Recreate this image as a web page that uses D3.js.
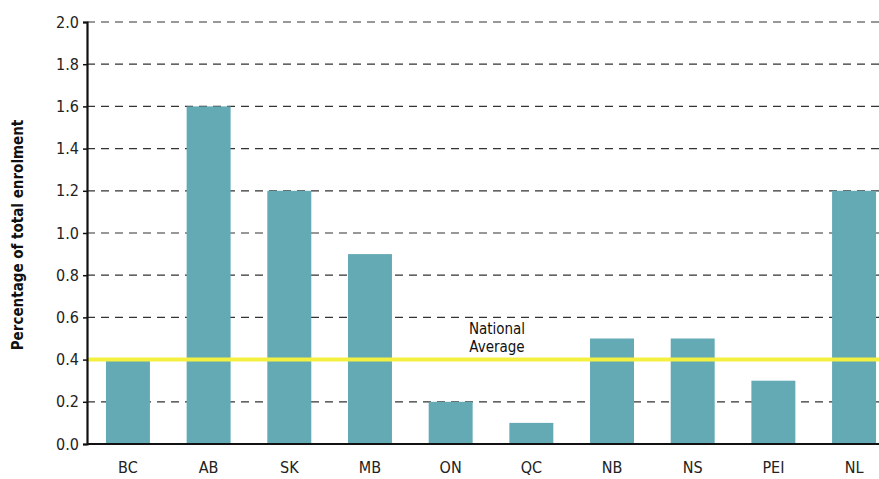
<!DOCTYPE html>
<html>
<head>
<meta charset="utf-8">
<script src="https://cdn.jsdelivr.net/npm/d3@7"></script>
<style>
  body { margin: 0; background: #fff; }
  text { font-family: "Liberation Sans Narrow", "DejaVu Sans Condensed", "Roboto", sans-serif; font-stretch: condensed; }
</style>
</head>
<body>
<svg id="chart"></svg>
<script>
// data
const provinces = ['BC', 'AB', 'SK', 'MB', 'ON', 'QC', 'NB', 'NS', 'PEI', 'NL'];
const enrolment = [0.4, 1.6, 1.2, 0.9, 0.2, 0.1, 0.5, 0.5, 0.3, 1.2];
const yTicks = [0.0, 0.2, 0.4, 0.6, 0.8, 1.0, 1.2, 1.4, 1.6, 1.8, 2.0];
const nationalAverage = 0.4;
const averageLabel = ['National', 'Average'];

const width = 879, height = 479;
const margin = { top: 22, left: 87, bottom: 35 };

const svg = d3.select('#chart')
  .attr('width', width)
  .attr('height', height);

const x = d3.scaleBand()
  .domain(provinces)
  .range([margin.left, 895])
  .paddingInner(0.455)
  .paddingOuter(0.235);

const y = d3.scaleLinear()
  .domain([0, 2])
  .range([height - margin.bottom, margin.top]);

// dashed grid lines (skip 0)
svg.append('g')
  .selectAll('line')
  .data(yTicks.filter(d => d > 0))
  .enter().append('line')
  .attr('x1', margin.left)
  .attr('x2', width)
  .attr('y1', d => y(d))
  .attr('y2', d => y(d))
  .attr('stroke', '#333')
  .attr('stroke-width', 1.2)
  .attr('stroke-dasharray', '8,6');

// bars
svg.append('g')
  .selectAll('rect')
  .data(provinces)
  .enter().append('rect')
  .attr('x', d => x(d))
  .attr('width', x.bandwidth())
  .attr('y', (d, i) => y(enrolment[i]))
  .attr('height', (d, i) => y(0) - y(enrolment[i]))
  .attr('fill', '#64aab5');

// national average line
svg.append('line')
  .attr('x1', margin.left)
  .attr('x2', width)
  .attr('y1', y(nationalAverage))
  .attr('y2', y(nationalAverage))
  .attr('stroke', '#f4f040')
  .attr('stroke-width', 4);

// two separate labels so the lines don't collide
svg.append('g')
  .selectAll('text')
  .data(averageLabel)
  .enter().append('text')
  .attr('x', 497)
  .attr('y', (d, i) => y(nationalAverage) - 26 + i * 18)
  .attr('text-anchor', 'middle')
  .attr('font-size', 15)
  .attr('font-weight', 500)
  .attr('fill', '#111')
  .text(d => d);

// axes
const yAxis = svg.append('g')
  .attr('transform', `translate(${margin.left},0)`)
  .call(d3.axisLeft(y).tickValues(yTicks).tickFormat(d3.format('.1f')).tickSize(4).tickPadding(4));
yAxis.select('.domain').attr('stroke', '#111').attr('stroke-width', 2.2);
yAxis.selectAll('.tick line').attr('stroke', '#111').attr('stroke-width', 1.5);
yAxis.selectAll('.tick text')
  .attr('font-size', 16)
  .attr('fill', '#222')
  .style('font-family', '"Liberation Sans Narrow", "DejaVu Sans Condensed", sans-serif');

const xAxis = svg.append('g')
  .attr('transform', `translate(0,${y(0)})`)
  .call(d3.axisBottom(x).tickSize(0).tickPadding(18));
xAxis.select('.domain').attr('stroke', '#111').attr('stroke-width', 2.2)
  .attr('d', `M${margin.left},0H${width}`);
xAxis.selectAll('.tick text')
  .attr('font-size', 16)
  .attr('fill', '#222')
  .style('font-family', '"Liberation Sans Narrow", "DejaVu Sans Condensed", sans-serif');

// y axis label
svg.append('text')
  .attr('transform', `translate(23,${(y(0) + y(2)) / 2 + 2}) rotate(-90)`)
  .attr('text-anchor', 'middle')
  .attr('font-size', 15)
  .attr('font-weight', 'bold')
  .attr('fill', '#111')
  .text('Percentage of total enrolment');
</script>
</body>
</html>
